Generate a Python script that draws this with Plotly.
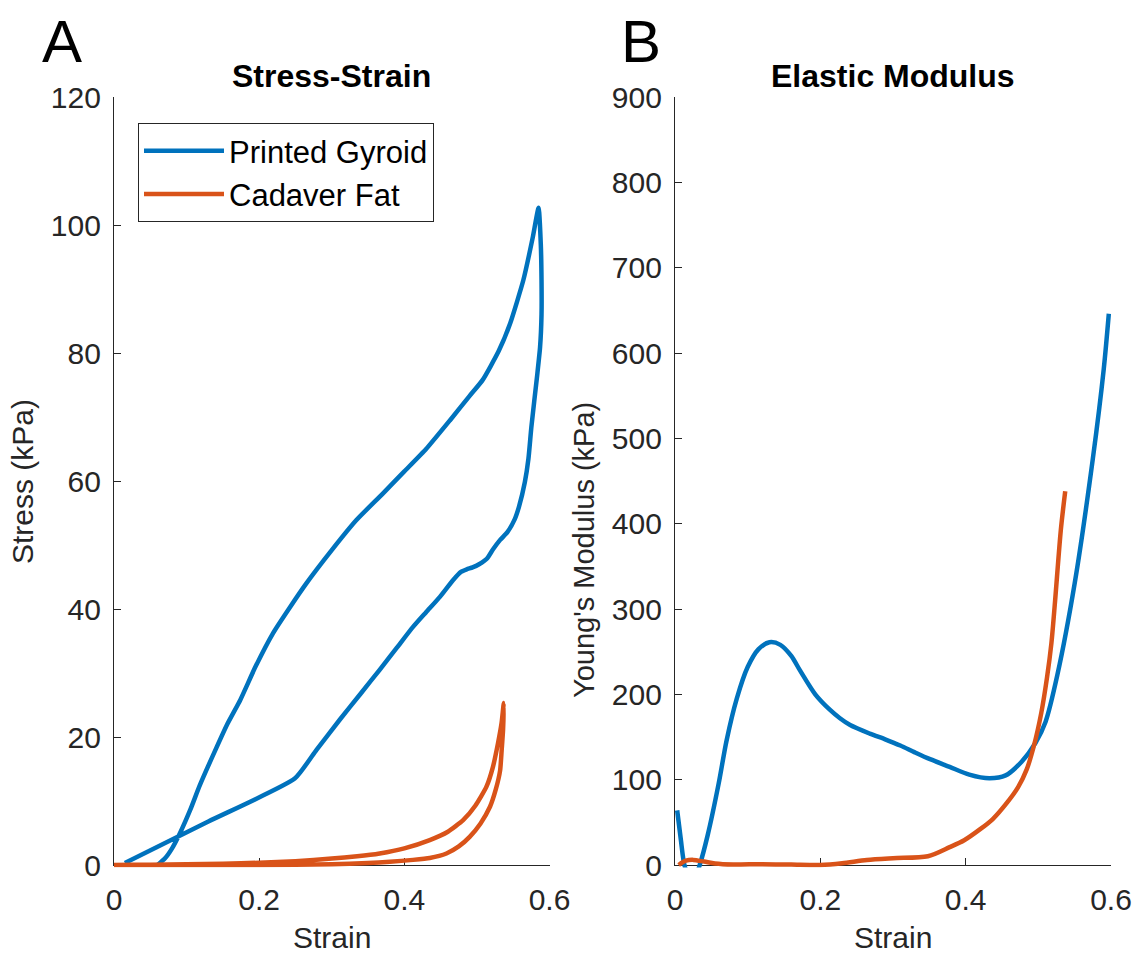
import plotly.graph_objects as go

# ---------------- data ----------------
# Panel A: stress-strain, Printed Gyroid (loading then unloading)
gyroid_strain_load = [0.060, 0.070, 0.080, 0.091, 0.105, 0.118, 0.139, 0.156, 0.174, 0.195,
                      0.219, 0.242, 0.265, 0.300, 0.334, 0.370, 0.400, 0.430, 0.463, 0.490,
                      0.508, 0.530, 0.546, 0.564, 0.577, 0.585]
gyroid_stress_load = [0.0, 1.0, 2.6, 5.0, 8.6, 12.4, 17.8, 22.0, 25.8, 31.0,
                      36.2, 40.2, 44.0, 49.2, 53.9, 58.0, 61.5, 65.0, 69.5, 73.3,
                      75.8, 80.3, 84.7, 91.4, 98.1, 102.7]
gyroid_strain_unload = [0.588, 0.589, 0.589, 0.587, 0.583, 0.575, 0.571, 0.566, 0.558, 0.552,
                        0.542, 0.532, 0.522, 0.514, 0.503, 0.494, 0.486, 0.478, 0.467, 0.449,
                        0.430, 0.412, 0.390, 0.366, 0.340, 0.311, 0.279, 0.249, 0.130, 0.015]
gyroid_stress_unload = [97.0, 91.4, 86.0, 80.9, 76.5, 68.4, 63.5, 59.8, 56.0, 54.0,
                        52.0, 50.8, 49.3, 47.9, 47.0, 46.5, 46.2, 45.8, 44.5, 41.9,
                        39.5, 37.2, 34.0, 30.5, 26.8, 22.7, 18.0, 13.5, 6.8, 0.3]

# Panel A: stress-strain, Cadaver Fat
fat_strain_load = [0.0, 0.05, 0.10, 0.15, 0.20, 0.25, 0.30, 0.335, 0.366, 0.400,
                   0.435, 0.460, 0.481, 0.498, 0.513, 0.522, 0.529, 0.534, 0.537]
fat_stress_load = [0.0, 0.05, 0.1, 0.2, 0.35, 0.6, 1.0, 1.35, 1.8, 2.6,
                   3.9, 5.2, 7.0, 9.3, 12.2, 15.3, 19.0, 22.2, 25.3]
fat_strain_unload = [0.536, 0.534, 0.532, 0.526, 0.518, 0.505, 0.490, 0.475, 0.458, 0.435,
                     0.412, 0.380, 0.350, 0.300, 0.200, 0.100, 0.0]
fat_stress_unload = [21.1, 17.8, 14.8, 11.8, 9.1, 6.5, 4.4, 2.9, 1.8, 1.1,
                     0.8, 0.5, 0.3, 0.1, 0.0, 0.0, 0.0]

# Panel B: elastic modulus
gyroid_mod_strain = [0.003, 0.008, 0.013, 0.020, 0.027, 0.034, 0.045, 0.060, 0.071, 0.085,
                     0.100, 0.115, 0.130, 0.145, 0.160, 0.172, 0.193, 0.213, 0.227, 0.241,
                     0.268, 0.290, 0.310, 0.330, 0.351, 0.378, 0.405, 0.4325, 0.455, 0.477,
                     0.496, 0.510, 0.526, 0.550, 0.575, 0.590, 0.597]
gyroid_mod = [64, 30, 0, -15, -15, 0, 35, 95, 146, 195,
              232, 253, 261, 258, 245, 228, 200, 182, 172, 164,
              154, 147, 140, 132, 124, 115, 106, 101.7, 105, 121,
              143, 168, 222, 330, 476, 581, 646]
fat_mod_strain = [0.005, 0.015, 0.025, 0.040, 0.055, 0.080, 0.120, 0.160, 0.200, 0.230,
                  0.264, 0.300, 0.348, 0.378, 0.398, 0.420, 0.437, 0.455, 0.472, 0.484,
                  0.494, 0.504, 0.512, 0.518, 0.523, 0.531, 0.537]
fat_mod = [0, 5, 6, 4, 1.7, 0.5, 1, 0.5, 0, 2,
           5.9, 8, 10.2, 20.9, 29, 42, 53.6, 71, 91, 112,
           140, 178, 220, 260, 309, 393, 438]

x_ticks = [0, 0.2, 0.4, 0.6]
x_ticktext = ["0", "0.2", "0.4", "0.6"]
stress_ticks = [0, 20, 40, 60, 80, 100, 120]
modulus_ticks = [0, 100, 200, 300, 400, 500, 600, 700, 800, 900]

series_names = ["Printed Gyroid", "Cadaver Fat"]
BLUE = "#0072BD"
ORANGE = "#D95319"
AXC = "#262626"
FONT = "Liberation Sans, Arial, Helvetica, sans-serif"

# ---------------- layout geometry (px) ----------------
W, H = 1137, 954
A_L, A_R, TOP, BOT = 114, 549.5, 97, 865
B_L, B_R = 675, 1111
PAD = 2.5


def dx(a, b):
    return [a / W, b / W]


def dy(top, bottom):
    return [(H - bottom) / H, (H - top) / H]


def ext_range(lo, hi, px_len):
    per = (hi - lo) / px_len
    return [lo - PAD * per, hi + PAD * per]


fig = go.Figure()

# dummy traces so the visible axes are drawn
fig.add_trace(go.Scatter(x=[], y=[], xaxis="x", yaxis="y", showlegend=False))
fig.add_trace(go.Scatter(x=[], y=[], xaxis="x2", yaxis="y2", showlegend=False))

lw = 4.5
fig.add_trace(go.Scatter(x=gyroid_strain_load + gyroid_strain_unload,
                         y=gyroid_stress_load + gyroid_stress_unload,
                         mode="lines", line=dict(color=BLUE, width=lw, shape="spline", smoothing=0.5),
                         name=series_names[0], xaxis="x3", yaxis="y3"))
fig.add_trace(go.Scatter(x=fat_strain_load + fat_strain_unload,
                         y=fat_stress_load + fat_stress_unload,
                         mode="lines", line=dict(color=ORANGE, width=lw, shape="spline", smoothing=0.5),
                         name=series_names[1], xaxis="x3", yaxis="y3"))
fig.add_trace(go.Scatter(x=gyroid_mod_strain, y=gyroid_mod, mode="lines",
                         line=dict(color=BLUE, width=lw, shape="spline", smoothing=0.8),
                         name=series_names[0], showlegend=False, xaxis="x4", yaxis="y4"))
fig.add_trace(go.Scatter(x=fat_mod_strain, y=fat_mod, mode="lines",
                         line=dict(color=ORANGE, width=lw, shape="spline", smoothing=0.8),
                         name=series_names[1], showlegend=False, xaxis="x4", yaxis="y4"))

common_ax = dict(showline=True, linecolor=AXC, linewidth=1.3, ticks="inside",
                 ticklen=7, tickwidth=1.3, tickcolor=AXC, showgrid=False,
                 zeroline=False, mirror=False, automargin=False,
                 tickfont=dict(family=FONT, size=30, color=AXC))

fig.update_layout(
    width=W, height=H, margin=dict(l=0, r=0, t=0, b=0),
    paper_bgcolor="white", plot_bgcolor="rgba(0,0,0,0)",
    font=dict(family=FONT, color=AXC),
    xaxis=dict(domain=dx(A_L, A_R), range=[0, 0.6], tickvals=x_ticks, ticktext=x_ticktext,
               anchor="y", ticklabelstandoff=8, **common_ax),
    yaxis=dict(domain=dy(TOP, BOT), range=[0, 120], tickvals=stress_ticks,
               anchor="x", ticklabelstandoff=6, **common_ax),
    xaxis2=dict(domain=dx(B_L, B_R), range=[0, 0.6], tickvals=x_ticks, ticktext=x_ticktext,
                anchor="y2", ticklabelstandoff=8, **common_ax),
    yaxis2=dict(domain=dy(TOP, BOT), range=[0, 900], tickvals=modulus_ticks,
                anchor="x2", ticklabelstandoff=6, **common_ax),
    xaxis3=dict(domain=dx(A_L - PAD, A_R + PAD), range=ext_range(0, 0.6, A_R - A_L),
                anchor="y3", visible=False),
    yaxis3=dict(domain=dy(TOP - PAD, BOT + PAD), range=ext_range(0, 120, BOT - TOP),
                anchor="x3", visible=False),
    xaxis4=dict(domain=dx(B_L - PAD, B_R + PAD), range=ext_range(0, 0.6, B_R - B_L),
                anchor="y4", visible=False),
    yaxis4=dict(domain=dy(TOP - PAD, BOT + PAD), range=ext_range(0, 900, BOT - TOP),
                anchor="x4", visible=False),
    legend=dict(x=138 / W, y=(H - 123) / H, xanchor="left", yanchor="top",
                bgcolor="white", bordercolor=AXC, borderwidth=1,
                font=dict(family=FONT, size=31, color="black"),
                itemwidth=80, tracegroupgap=0),
    showlegend=True,
)


def ann(text, px, py, size, color=AXC, angle=0):
    fig.add_annotation(text=text, x=px / W, y=1 - py / H, xref="paper", yref="paper",
                       xanchor="center", yanchor="middle", showarrow=False,
                       textangle=angle, font=dict(family=FONT, size=size, color=color))


ann("A", 62, 41, 60, "black")
ann("B", 641, 41, 60, "black")
ann("<b>Stress-Strain</b>", (A_L + A_R) / 2, 76, 32, "black")
ann("<b>Elastic Modulus</b>", (B_L + B_R) / 2, 76, 32, "black")
ann("Strain", (A_L + A_R) / 2, 937, 30)
ann("Strain", (B_L + B_R) / 2, 937, 30)
ann("Stress (kPa)", 22, 482, 30, angle=-90)
ann("Young's Modulus (kPa)", 584, 550, 29, angle=-90)

fig.write_html("out.html")
